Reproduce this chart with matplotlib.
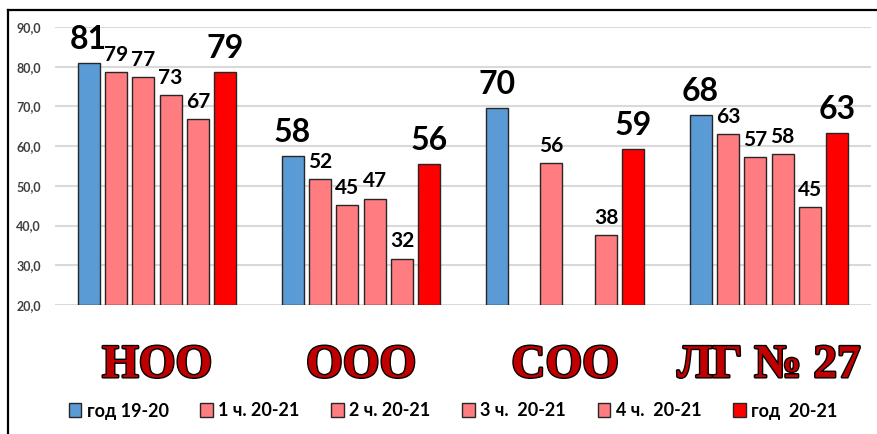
import matplotlib
matplotlib.use("Agg")
import matplotlib.pyplot as plt
import matplotlib.patheffects as pe
from matplotlib.lines import Line2D
from matplotlib.patches import Patch
import numpy as np

categories = ["НОО", "ООО", "СОО", "ЛГ № 27"]
series_names = ["год 19-20", "1 ч. 20-21", "2 ч. 20-21", "3 ч.  20-21", "4 ч.  20-21", "год  20-21"]
year_1920 = [81.0, 57.6, 69.6, 67.9]
q1_2021 = [78.6, 51.8, None, 63.1]
q2_2021 = [77.4, 45.2, 55.8, 57.2]
q3_2021 = [72.8, 46.8, None, 57.9]
q4_2021 = [66.8, 31.7, 37.6, 44.7]
year_2021 = [78.7, 55.5, 59.3, 63.3]
yticks = [20, 30, 40, 50, 60, 70, 80, 90]

series = [year_1920, q1_2021, q2_2021, q3_2021, q4_2021, year_2021]
colors = ["#5B9BD5", "#FF7C80", "#FF7C80", "#FF7C80", "#FF7C80", "#FF0000"]
big = [True, False, False, False, False, True]

plt.rcParams['font.family'] = ['Lato', 'Open Sans', 'DejaVu Sans']

fig = plt.figure(figsize=(8.78, 4.34), dpi=100)
ax = fig.add_axes([55/878, 1-305/434, (871-55)/878, (305-27)/434])

slot = 0.134
width = 0.108
x = np.arange(len(categories))
for i, (vals, col, b) in enumerate(zip(series, colors, big)):
    off = (i - 2.5) * slot
    for j, v in enumerate(vals):
        if v is None:
            continue
        ax.bar(x[j] + off, v - 20, bottom=20, width=width, color=col,
               edgecolor="#262626", linewidth=1.0, zorder=3)
        ax.annotate(f"{round(v):d}", (x[j] + off, v), xytext=(0, 10 if b else 8),
                    textcoords="offset points", ha="center", va="baseline",
                    fontsize=23 if b else 15, fontweight="bold", color="black",
                    annotation_clip=False, zorder=4)

ax.set_xlim(-0.5, 3.5)
ax.set_ylim(20, 90)
ax.set_yticks(yticks)
ax.set_yticklabels([f"{t:.1f}".replace(".", ",") for t in yticks],
                   fontsize=9, fontweight="bold", color="#404040")
ax.set_xticks([])
ax.tick_params(axis="y", length=0, pad=10)
for s in ax.spines.values():
    s.set_visible(False)
ax.grid(axis="y", color="#d9d9d9", linewidth=1.5, zorder=0)
ax.set_axisbelow(True)

# category labels
for j, c in enumerate(categories):
    ax.text(x[j], -0.22, c, transform=ax.get_xaxis_transform(), ha="center", va="center",
            fontsize=34, fontweight="bold", family="Liberation Serif", color="#C00000",
            path_effects=[pe.withStroke(linewidth=2.0, foreground="black")])

handles = [Patch(facecolor=c, edgecolor="#262626", linewidth=1.0) for c in colors]
leg = fig.legend(handles, series_names, loc="center", bbox_to_anchor=(453/878, 1-411/434),
                 ncol=6, frameon=False, fontsize=13, handlelength=0.7, handleheight=0.8,
                 handletextpad=0.3, columnspacing=1.75, borderaxespad=0)
for t in leg.get_texts():
    t.set_fontweight("bold")

# frame lines
fig.add_artist(Line2D([8/878, 1], [1-10/434, 1-10/434], color="black", linewidth=1.6))
fig.add_artist(Line2D([8/878, 8/878], [0, 1-10/434], color="black", linewidth=1.6))

fig.savefig("out.png", dpi=100)
